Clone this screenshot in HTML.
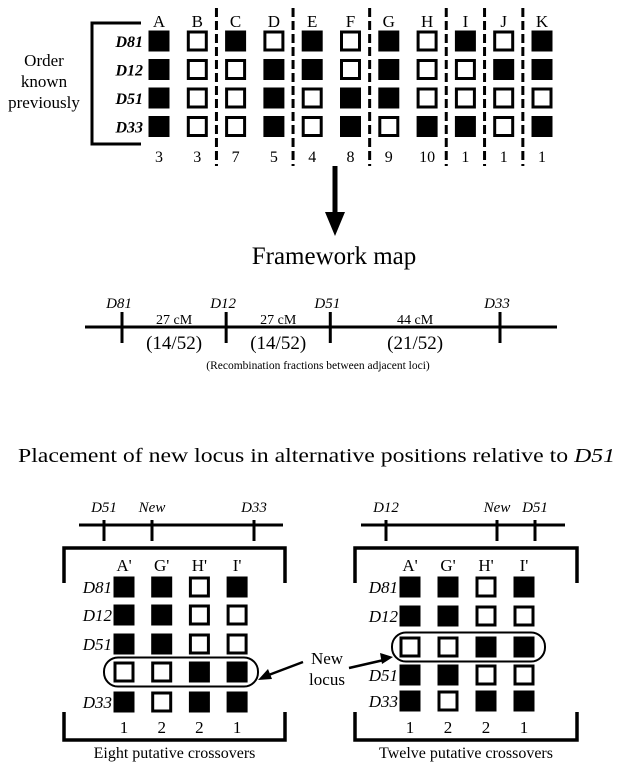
<!DOCTYPE html>
<html><head><meta charset="utf-8"><style>
html,body{margin:0;padding:0;background:#fff;}
svg{display:block;font-family:"Liberation Serif",serif;}
</style></head><body>
<svg id="fig" width="625" height="776" viewBox="0 0 625 776" xmlns="http://www.w3.org/2000/svg">
<g id="topgrid"></g>
<g id="mid"></g>
<g id="bot"></g>
</svg>
<script>
const NS="http://www.w3.org/2000/svg";
// ---- data ----
const topCols=["A","B","C","D","E","F","G","H","I","J","K"];
const topLoci=["D81","D12","D51","D33"];
const rowD81=[1,0,1,0,1,0,1,0,1,0,1];
const rowD12=[1,0,0,1,1,0,1,0,0,1,1];
const rowD51=[1,0,0,1,0,1,1,0,0,0,0];
const rowD33=[1,0,0,1,0,1,0,1,1,0,1];
const topCounts=["3","3","7","5","4","8","9","10","1","1","1"];
const dashAfter=["B","D","F","H","I","J"];
const mapLoci=["D81","D12","D51","D33"];
const mapCM=[0,27,54,98];
const intervalLabels=["27 cM","27 cM","44 cM"];
const intervalFractions=["(14/52)","(14/52)","(21/52)"];
const subCols=["A'","G'","H'","I'"];
const subCounts=["1","2","2","1"];
const leftLoci=["D81","D12","D51","","D33"];
const leftRows=[[1,1,0,1],[1,1,0,0],[1,1,0,0],[0,0,1,1],[1,0,1,1]];
const rightLoci=["D81","D12","","D51","D33"];
const rightRows=[[1,1,0,1],[1,1,0,0],[0,0,1,1],[1,1,0,0],[1,0,1,1]];

function el(tag,attrs,parent,text){const e=document.createElementNS(NS,tag);for(const k in attrs)e.setAttribute(k,attrs[k]);if(text!==undefined)e.textContent=text;parent.appendChild(e);return e;}
function sq(g,cx,cy,filled){
  const r= filled? el('rect',{x:cx-10.5,y:cy-10.5,width:21,height:21,fill:'#000'},g)
                 : el('rect',{x:cx-9,y:cy-9,width:18,height:18,fill:'#fff',stroke:'#000','stroke-width':3},g);
  
  
}
// ---- top grid ----
const topG=document.getElementById('topgrid');
const colX=i=>159+i*38.3;
const rowY=i=>41+i*28.5;
const topRows=[rowD81,rowD12,rowD51,rowD33];
topCols.forEach((c,i)=>{
  const t=el('text',{x:colX(i),y:27,'font-size':17,'text-anchor':'middle'},topG,c);
  
  
  const n=el('text',{x:colX(i),y:162,'font-size':16,'text-anchor':'middle'},topG,topCounts[i]);
  
  
  topRows.forEach((row,r)=>sq(topG,colX(i),rowY(r),row[i]));
});
topLoci.forEach((l,r)=>{
  const t=el('text',{x:143,y:rowY(r)+6,'font-size':16,'font-weight':'bold','font-style':'italic','text-anchor':'end'},topG,l);
  
  
});
dashAfter.forEach(c=>{
  const i=topCols.indexOf(c);
  const x=(colX(i)+colX(i+1))/2;
  const d=el('line',{x1:x,y1:8,x2:x,y2:166,stroke:'#000','stroke-width':3,'stroke-dasharray':'9 4'},topG);
  
  
});
const br=el('path',{d:'M141 23 H92 V144 H141',fill:'none',stroke:'#000','stroke-width':3},topG);


['Order','known','previously'].forEach((w,i)=>{
  const t=el('text',{x:44,y:66+i*21,'font-size':17,'text-anchor':'middle'},topG,w);
  
  
});
// ---- middle ----
const mid=document.getElementById('mid');
const ar=el('path',{d:'M335 166 V218',stroke:'#000','stroke-width':5},mid);


const ah=el('path',{d:'M325 212 L345 212 L335 236 Z',fill:'#000'},mid);


const ft=el('text',{x:334,y:264,'font-size':25,'text-anchor':'middle'},mid,'Framework map');


const mx=cm=>122+cm*(500-122)/98;
const ml=el('line',{x1:85,y1:327,x2:557,y2:327,stroke:'#000','stroke-width':3},mid);


mapLoci.forEach((l,i)=>{
  const x=mx(mapCM[i]);
  const tk=el('line',{x1:x,y1:312,x2:x,y2:343,stroke:'#000','stroke-width':3},mid);
  
  
  const t=el('text',{x:x-3,y:308,'font-size':15,'font-style':'italic','text-anchor':'middle'},mid,l);
  
  
});
intervalLabels.forEach((s,i)=>{
  const x=(mx(mapCM[i])+mx(mapCM[i+1]))/2;
  const a=el('text',{x:x,y:324,'font-size':14,'text-anchor':'middle'},mid,s);
  
  
  const b=el('text',{x:x,y:349,'font-size':19,'text-anchor':'middle'},mid,intervalFractions[i]);
  
  
});
const rc=el('text',{x:318,y:369,'font-size':11.5,'text-anchor':'middle'},mid,'(Recombination fractions between adjacent loci)');


// ---- bottom ----
const bot=document.getElementById('bot');
const pt=el('text',{x:18,y:462,'font-size':20,textLength:597,lengthAdjust:'spacingAndGlyphs'},bot);


pt.appendChild(document.createTextNode('Placement of new locus in alternative positions relative to '));
el('tspan',{'font-style':'italic'},pt,'D51');

function panel(cfg){
  const g=el('g',{},bot);
  
  
  const ln=el('line',{x1:cfg.lineX1,y1:525,x2:cfg.lineX2,y2:525,stroke:'#000','stroke-width':3},g);
  
  
  cfg.ticks.forEach((tk,i)=>{
    const l=el('line',{x1:tk,y1:520,x2:tk,y2:541,stroke:'#000','stroke-width':3},g);
    
    
    const t=el('text',{x:tk,y:512,'font-size':15,'font-style':'italic','text-anchor':'middle'},g,cfg.tickLabels[i]);
    
    
  });
  const L=cfg.bx1,R=cfg.bx2;
  const b1=el('path',{d:`M${L} 583 V548 H${R} V583`,fill:'none',stroke:'#000','stroke-width':3.5},g);
  
  
  const b2=el('path',{d:`M${L} 712 V740 H${R} V712`,fill:'none',stroke:'#000','stroke-width':3.5},g);
  
  
  const cx=i=>cfg.c0+i*cfg.dc;
  subCols.forEach((c,i)=>{
    const t=el('text',{x:cx(i),y:571,'font-size':17,'text-anchor':'middle'},g,c);
    
    
    const n=el('text',{x:cx(i),y:733,'font-size':17,'text-anchor':'middle'},g,subCounts[i]);
    
    
  });
  const ov=el('rect',{x:cfg.ovalX1,y:cfg.rowYs[cfg.newRow]-14.5,width:cfg.ovalX2-cfg.ovalX1,height:29,rx:14,ry:14,fill:'none',stroke:'#000','stroke-width':2},g);
  
  
  cfg.rows.forEach((row,r)=>{
    row.forEach((v,i)=>sq(g,cx(i),cfg.rowYs[r],v));
    if(cfg.loci[r]){
      const t=el('text',{x:cx(0)-12,y:cfg.rowYs[r]+6,'font-size':17,'font-style':'italic','text-anchor':'end'},g,cfg.loci[r]);
      
      
    }
  });
  const cap=el('text',{x:(L+R)/2,y:758,'font-size':16,'text-anchor':'middle'},g,cfg.caption);
  
  
}
panel({name:'left-panel',lineX1:79,lineX2:283,ticks:[104,152,254],tickLabels:['D51','New','D33'],bx1:64,bx2:285,c0:124,dc:37.7,
  rows:leftRows,loci:leftLoci,rowYs:[587,615,644,672,702],newRow:3,ovalX1:104,ovalX2:258,caption:'Eight putative crossovers'});
panel({name:'right-panel',lineX1:361,lineX2:565,ticks:[386,497,535],tickLabels:['D12','New','D51'],bx1:355,bx2:577,c0:410,dc:38,
  rows:rightRows,loci:rightLoci,rowYs:[587,616,647,675,701],newRow:2,ovalX1:392,ovalX2:545,caption:'Twelve putative crossovers'});
['New','locus'].forEach((w,i)=>{
  const t=el('text',{x:327,y:664+i*21,'font-size':17,'text-anchor':'middle'},bot,w);
  
  
});
const a1=el('line',{x1:303,y1:662,x2:266,y2:676,stroke:'#000','stroke-width':2.5},bot);


const h1=el('path',{d:'M258 680 L268 669 L272 679 Z',fill:'#000'},bot);


const a2=el('line',{x1:349,y1:668,x2:384,y2:660,stroke:'#000','stroke-width':2.5},bot);


const h2=el('path',{d:'M393 657 L380 653 L382 664 Z',fill:'#000'},bot);


</script>
</body></html>
